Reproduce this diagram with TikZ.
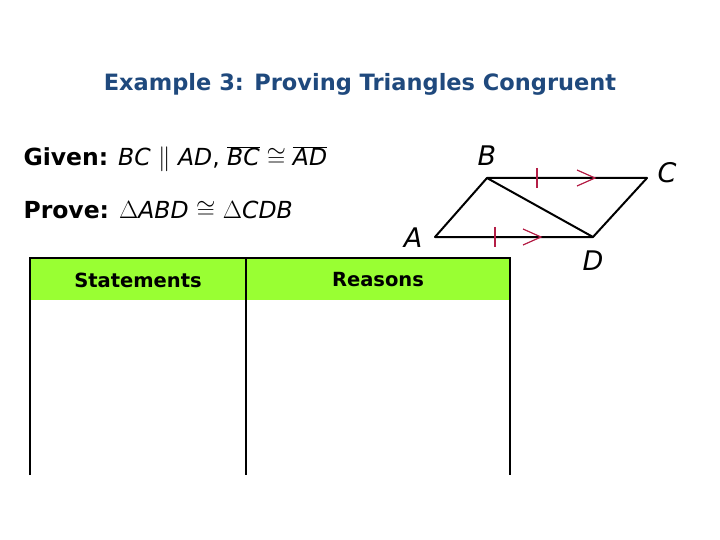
\documentclass[tikz,border=0pt]{standalone}
\usepackage{fontspec}
\setmainfont{DejaVu Sans}
\definecolor{ttl}{RGB}{31,73,125}
\definecolor{mk}{RGB}{180,30,70}
\definecolor{hdr}{RGB}{153,255,51}
\begin{document}
\begin{tikzpicture}[x=1pt,y=-1pt,
  lbl/.style={font=\fontsize{27}{30}\selectfont\itshape},
  txt/.style={anchor=west,font=\fontsize{23.5}{28}\selectfont},
  th/.style={font=\fontsize{19.5}{22}\selectfont\bfseries},
  edge/.style={line width=2pt},
  tickmk/.style={draw=mk,line width=1.2pt}]
\useasboundingbox (0,0) rectangle (720,540);
\node[font=\fontsize{22.5}{26}\selectfont\bfseries,text=ttl] (title) at (360,84) {Example 3: Proving Triangles Congruent};
\node[txt] (given) at (20,159) {\textbf{Given:} \textit{BC} $\|$ \textit{AD}, $\overline{\mbox{\textit{BC}}}\cong\overline{\mbox{\textit{AD}}}$};
\node[txt] (prove) at (20,210) {\textbf{Prove:} $\Delta$\textit{ABD} $\cong$ $\Delta$\textit{CDB}};
% figure
\coordinate (A) at (435,237); \coordinate (B) at (487,178);
\coordinate (C) at (647,178); \coordinate (D) at (593,237);
\draw[edge,line join=round] (A) -- (B) -- (C) -- (D) -- cycle;
\draw[edge] (B) -- (D);
\node[lbl] (lA) at (413,238) {A};
\node[lbl] (lB) at (487,156) {B};
\node[lbl] (lC) at (667,173) {C};
\node[lbl] (lD) at (593,261) {D};
\draw[tickmk] (537,168) -- (537,188);
\draw[tickmk] (577,170) -- (595,178) -- (577,186);
\draw[tickmk] (495,227) -- (495,247);
\draw[tickmk] (523,229) -- (541,237) -- (523,245);
% table
\fill[hdr] (31,259) rectangle (509,300);
\draw[line width=2pt] (30,475) -- (30,258) -- (510,258) -- (510,475);
\draw[line width=2pt] (246,258) -- (246,475);
\node[th] (s) at (138,280) {Statements};
\node[th] (r) at (378,280) {Reasons};
\end{tikzpicture}
\end{document}
